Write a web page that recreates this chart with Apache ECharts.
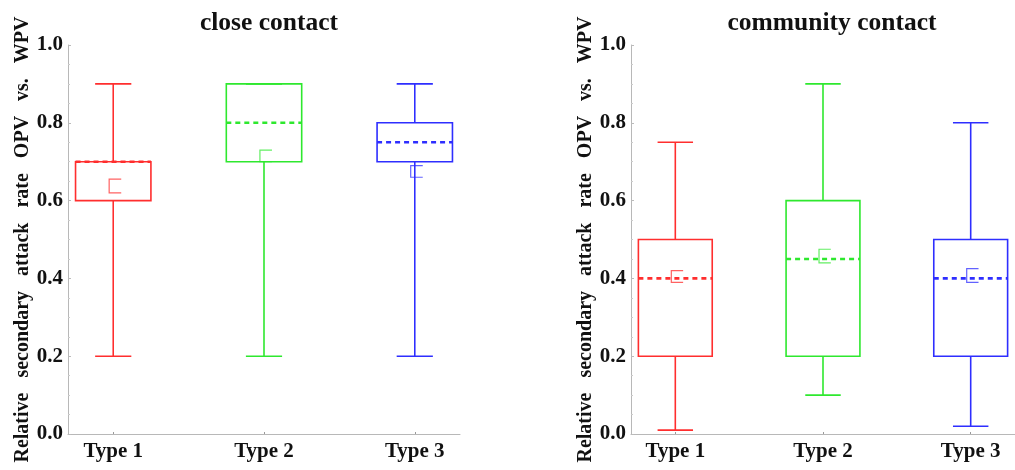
<!DOCTYPE html>
<html>
<head>
<meta charset="utf-8">
<script src="https://cdn.jsdelivr.net/npm/echarts@6/dist/echarts.min.js"></script>
<style>
  html, body { margin: 0; padding: 0; background: #fff; }
  #chart { width: 1015px; height: 470px; }
</style>
</head>
<body>
<div id="chart"></div>
<script>
// Box-plot summaries of relative secondary attack rates, per vaccine type
const categories = ['Type 1', 'Type 2', 'Type 3'];
const panelTitles = ['close contact', 'community contact'];
const yTicks = [0, 0.2, 0.4, 0.6, 0.8, 1.0];

// close contact
const closeMin = [0.2, 0.2, 0.2];
const closeQ1 = [0.6, 0.7, 0.7];
const closeMedian = [0.7, 0.8, 0.75];
const closeQ3 = [0.7, 0.9, 0.8];
const closeMax = [0.9, 0.9, 0.9];
const closeMeanLow = [0.62, 0.70, 0.66];
const closeMeanHigh = [0.655, 0.73, 0.69];

// community contact
const communityMin = [0.01, 0.1, 0.02];
const communityQ1 = [0.2, 0.2, 0.2];
const communityMedian = [0.4, 0.45, 0.4];
const communityQ3 = [0.5, 0.6, 0.5];
const communityMax = [0.75, 0.9, 0.8];
const communityMeanLow = [0.39, 0.44, 0.39];
const communityMeanHigh = [0.42, 0.475, 0.425];

const typeColors = ['#ff2e2e', '#2ee82e', '#2e2eff'];
const serif = "'Liberation Serif', 'Times New Roman', serif";
const yName = ['Relative', 'secondary', 'attack', 'rate', 'OPV', 'vs.', 'WPV'].join('   ');

function rows(mins, q1s, meds, q3s, maxs, lows, highs) {
  return categories.map((c, i) => [i + 1, mins[i], q1s[i], meds[i], q3s[i], maxs[i], lows[i], highs[i], i]);
}

function renderBox(params, api) {
  const x = api.value(0);
  const color = typeColors[api.value(8)];
  const pt = v => api.coord([x, v]);
  const xAt = dx => api.coord([x + dx, 0])[0];
  const yMin = pt(api.value(1))[1];
  const yQ1 = pt(api.value(2))[1];
  const yMed = pt(api.value(3))[1];
  const yQ3 = pt(api.value(4))[1];
  const yMax = pt(api.value(5))[1];
  const yLow = pt(api.value(6))[1];
  const yHigh = pt(api.value(7))[1];
  const cx = pt(0)[0];
  const bl = xAt(-0.25), br = xAt(0.25);
  const cl = xAt(-0.12), cr = xAt(0.12);
  const ml = xAt(-0.027), mr = xAt(0.053);
  const solid = { stroke: color, lineWidth: 1.6, fill: null };
  return {
    type: 'group',
    children: [
      { type: 'line', shape: { x1: cx, y1: yMin, x2: cx, y2: yQ1 }, style: solid },
      { type: 'line', shape: { x1: cx, y1: yQ3, x2: cx, y2: yMax }, style: solid },
      { type: 'line', shape: { x1: cl, y1: yMin, x2: cr, y2: yMin }, style: solid },
      { type: 'line', shape: { x1: cl, y1: yMax, x2: cr, y2: yMax }, style: solid },
      { type: 'rect', shape: { x: bl, y: yQ3, width: br - bl, height: yQ1 - yQ3 }, style: solid },
      { type: 'line', shape: { x1: bl, y1: yMed, x2: br, y2: yMed },
        style: { stroke: color, lineWidth: 2.6, lineDash: [5, 4] } },
      { type: 'polyline', shape: { points: [[mr, yHigh], [ml, yHigh], [ml, yLow], [mr, yLow]] },
        style: { stroke: color, lineWidth: 1.2, fill: null, opacity: 0.75 } }
    ]
  };
}

const grids = [
  { left: 68, top: 45, width: 392, height: 389 },
  { left: 631, top: 45, width: 391, height: 389 }
];

function xAxis(gi) {
  return {
    type: 'value', gridIndex: gi, min: 0.7, max: 3.3,
    splitLine: { show: false },
    axisLine: { lineStyle: { color: '#b8b8b8', width: 1 } },
    axisTick: { show: true, inside: true, length: 2, customValues: [1, 2, 3], lineStyle: { color: '#999' } },
    axisLabel: {
      customValues: [1, 2, 3], margin: 7,
      formatter: v => categories[Math.round(v) - 1] || '',
      fontFamily: serif, fontWeight: 'bold', fontSize: 21, color: '#111'
    }
  };
}

function yAxis(gi) {
  return {
    type: 'value', gridIndex: gi, min: yTicks[0], max: yTicks[yTicks.length - 1], interval: 0.2,
    splitLine: { show: false },
    name: yName, nameLocation: 'middle', nameGap: 33, nameRotate: 90,
    nameTextStyle: { fontFamily: serif, fontWeight: 'bold', fontSize: 20, color: '#111' },
    axisLine: { show: true, lineStyle: { color: '#b8b8b8', width: 1 } },
    axisTick: { show: true, inside: true, length: 3, lineStyle: { color: '#bbb' } },
    minorTick: { show: true, splitNumber: 4, length: 2, lineStyle: { color: '#ccc' } },
    axisLabel: {
      margin: 5, formatter: v => v.toFixed(1),
      fontFamily: serif, fontWeight: 'bold', fontSize: 21, color: '#111'
    }
  };
}

const chart = echarts.init(document.getElementById('chart'), null, { renderer: 'canvas' });
chart.setOption({
  animation: false,
  backgroundColor: '#fff',
  title: [
    { text: panelTitles[0], left: 264, top: 5, textAlign: 'center',
      textStyle: { fontFamily: serif, fontWeight: 'bold', fontSize: 25.5, color: '#111' } },
    { text: panelTitles[1], left: 827, top: 5, textAlign: 'center',
      textStyle: { fontFamily: serif, fontWeight: 'bold', fontSize: 25.5, color: '#111' } }
  ],
  grid: grids,
  xAxis: [xAxis(0), xAxis(1)],
  yAxis: [yAxis(0), yAxis(1)],
  series: [
    { type: 'custom', xAxisIndex: 0, yAxisIndex: 0, renderItem: renderBox,
      encode: { x: 0, y: [1, 2, 3, 4, 5] },
      data: rows(closeMin, closeQ1, closeMedian, closeQ3, closeMax, closeMeanLow, closeMeanHigh) },
    { type: 'custom', xAxisIndex: 1, yAxisIndex: 1, renderItem: renderBox,
      encode: { x: 0, y: [1, 2, 3, 4, 5] },
      data: rows(communityMin, communityQ1, communityMedian, communityQ3, communityMax, communityMeanLow, communityMeanHigh) }
  ]
});
</script>
</body>
</html>
